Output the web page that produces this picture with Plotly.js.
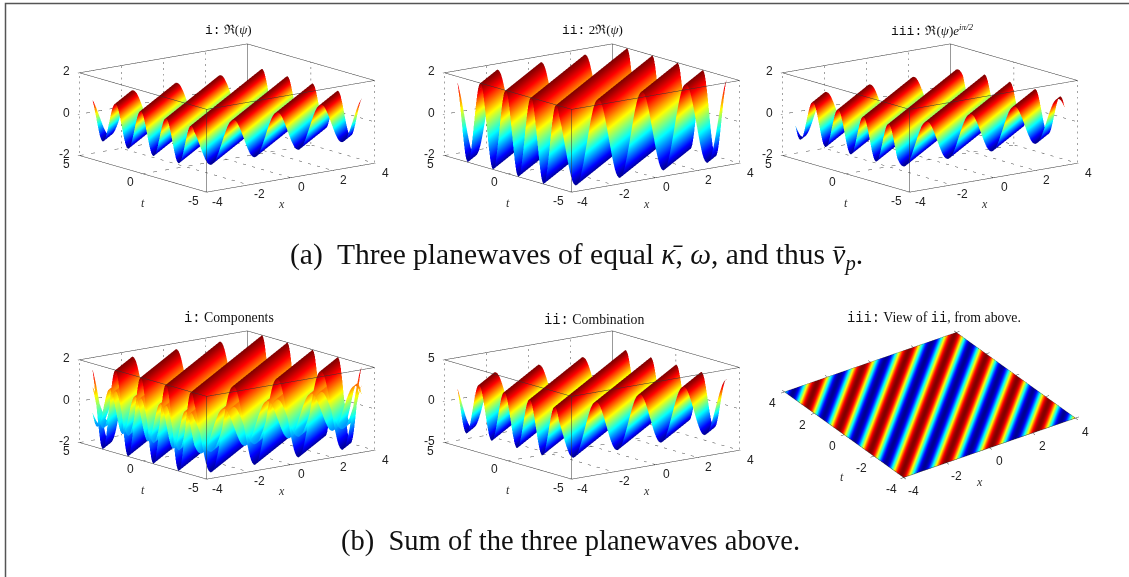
<!DOCTYPE html>
<html><head><meta charset="utf-8">
<script src="https://cdn.plot.ly/plotly-3.0.1.min.js"></script>
<style>html,body{margin:0;padding:0;background:#fff}#g{width:1129px;height:577px}</style></head>
<body><div id="g"></div>
<script>
// One period of the wave height, crest = 1 (36 samples)
const waveProfile = [1,0.98,0.94,0.87,0.77,0.64,0.5,0.34,0.17,0,-0.17,-0.34,-0.5,-0.64,-0.77,-0.87,-0.94,-0.98,-1,-0.98,-0.94,-0.87,-0.77,-0.64,-0.5,-0.34,-0.17,0,0.17,0.34,0.5,0.64,0.77,0.87,0.94,0.98];
const xTicks = [-4,-2,0,2,4];
const tTicks3d = [-5,0,5];
const tTicksTop = [-4,-2,0,2,4];
const zTicksSmall = [-2,0,2];
const zTicksBig = [-5,0,5];
// Panels: amplitude and phase shift (in profile samples) of each surface
const amp_i = 1, amp_ii = 2, amp_iii = 1, amp_sum = 3.16;
const shift_i = 4, shift_ii = 4, shift_iii = 12, shift_sum = 6, shift_top = 3;
const mono = s => '<span style="font-family:Liberation Mono">'+s+'</span>';
const titles = [mono('i:')+' ℜ(<i>ψ</i>)',mono('ii:')+' 2ℜ(<i>ψ</i>)',mono('iii:')+' ℜ(<i>ψ</i>)<i>e</i><sup><i>iπ/2</i></sup>',mono('i:')+' Components',mono('ii:')+' Combination',mono('iii:')+' View of '+mono('ii')+', from above.'];
const captionA = '(a)  Three planewaves of equal <i>κ̄</i>, <i>ω</i>, and thus <i>v̄</i><sub><i>p</i></sub>.';
const captionB = '(b)  Sum of the three planewaves above.';
const jet = [[0,'rgb(0,0,143)'],[0.11,'rgb(0,0,255)'],[0.36,'rgb(0,255,255)'],[0.61,'rgb(255,255,0)'],[0.86,'rgb(255,0,0)'],[1,'rgb(128,0,0)']];

const grid = n => Array.from({length:n},(_, i)=>-4+8*i/(n-1));
const xs = grid(139), ts = grid(146), xsTop = grid(136), tsTop = grid(138);
const N = waveProfile.length;
function sheet(amp, shift, gx, gt){
  return (gt||ts).map((_, j)=>(gx||xs).map((_, i)=>amp*waveProfile[(((i-j+shift)%N)+N)%N]));
}
const W=1129,H=577;
function dom(cx,cy,w,h){return {x:[(cx-w/2)/W,(cx+w/2)/W],y:[1-(cy+h/2)/H,1-(cy-h/2)/H]};}
function ax(tickvals,range){
  return {title:{text:''},range:range,tickmode:'array',tickvals:tickvals,ticktext:tickvals.map(String),
    showticklabels:false,ticks:'inside',ticklen:2,tickcolor:'#555',
    showline:false,showgrid:false,zeroline:false,showbackground:false,showspikes:false};
}
const K=1.845;
const lab=(x,y,z,text,dx,dy,anchor)=>({x,y,z,text:String(text),showarrow:false,xshift:dx,yshift:-dy,xanchor:anchor||'center',yanchor:'middle',font:{family:'Liberation Sans',size:12,color:'#222'}});
const axt=(x,y,z,text,dx,dy)=>({x,y,z,text:'<i>'+text+'</i>',showarrow:false,xshift:dx,yshift:-dy,xanchor:'center',yanchor:'middle',font:{family:'Liberation Serif',size:12,color:'#333'}});
function scene(cx,cy,zTicks,zR,eye){
  const zmin=zR[0];
  return {domain:dom(cx,cy,340,230),
    camera:{projection:{type:'orthographic'},eye:eye,center:{x:0,y:0,z:0},up:{x:0,y:0,z:1}},
    aspectmode:'manual',aspectratio:{x:K,y:0.98*K,z:0.40*K},
    xaxis:ax(xTicks,[-4,4]),yaxis:ax(tTicks3d,[-5,5]),zaxis:ax(zTicks,zR),
    annotations:[
      ...xTicks.map(v=>lab(v,-5,zmin,v,11,10)),
      ...tTicks3d.map(v=>lab(-4,v,zmin,v,-13,9)),
      ...zTicks.map(v=>lab(-4,5,v,v,-7,-1,'right')),
      axt(-4,0,zmin,'t',0,30),axt(0,-5,zmin,'x',-9,27)],
    dragmode:false};
}
function surf(id,z,c,cr,gx,gt){
  return {type:'surface',scene:id,x:gx||xs,y:gt||ts,z:z,surfacecolor:c,cmin:-cr,cmax:cr,colorscale:jet,showscale:false,hoverinfo:'skip',
    lighting:{ambient:1,diffuse:0,specular:0,roughness:1,fresnel:0},
    contours:{x:{show:false,highlight:false},y:{show:false,highlight:false},z:{show:false,highlight:false}}};
}
function s(id,amp,shift,cr){const z=sheet(amp,shift);return surf(id,z,z,cr);}
const flatTop = tsTop.map(()=>xsTop.map(()=>0));
// box edges (solid) and grid (dotted), drawn from the axis ranges and tick lists
function segs(id,list,dash,color){
  const x=[],y=[],z=[];
  list.forEach(p=>{x.push(p[0],p[3],null);y.push(p[1],p[4],null);z.push(p[2],p[5],null);});
  return {type:'scatter3d',scene:id,mode:'lines',x,y,z,hoverinfo:'skip',showlegend:false,connectgaps:false,line:{color:color,width:1,dash:dash}};
}
function frame(id,zT){
  const X0=-4,X1=4,T0=-5,T1=5,Z0=zT[0],Z1=zT[zT.length-1];
  const solid=[[X0,T0,Z0,X1,T0,Z0],[X0,T0,Z0,X0,T1,Z0],[X0,T0,Z1,X1,T0,Z1],[X0,T0,Z1,X0,T1,Z1],
    [X1,T1,Z1,X1,T0,Z1],[X1,T1,Z1,X0,T1,Z1],[X0,T0,Z0,X0,T0,Z1],[X1,T1,Z0,X1,T1,Z1]];
  const dots=[[X0,T1,Z0,X1,T1,Z0],[X1,T0,Z0,X1,T1,Z0],[X0,T1,Z0,X0,T1,Z1],[X1,T0,Z0,X1,T0,Z1]];
  xTicks.slice(1,-1).forEach(v=>{dots.push([v,T1,Z0,v,T1,Z1],[v,T0,Z0,v,T1,Z0]);});
  tTicks3d.slice(1,-1).forEach(v=>{dots.push([X1,v,Z0,X1,v,Z1],[X0,v,Z0,X1,v,Z0]);});
  zT.slice(1,-1).forEach(v=>{dots.push([X0,T1,v,X1,T1,v],[X1,T0,v,X1,T1,v]);});
  return [segs(id,solid,'solid','#333'),segs(id,dots,'dot','#444')];
}
const E=4.16/4;
function topFrame(){
  const T=[];const a=-4,b=4,o=4.16;
  xTicks.forEach(v=>{T.push([v,-o,0,v,a,0],[v,b,0,v,o,0]);});
  tTicksTop.forEach(v=>{T.push([-o,v,0,a,v,0],[b,v,0,o,v,0]);});
  return [segs('scene6',[[a,a,0,b,a,0],[a,a,0,a,b,0],[b,b,0,b,a,0],[b,b,0,a,b,0]],'solid','#333'),segs('scene6',T,'solid','#444')];
}
const data=[
 s('scene',amp_i,shift_i,1),
 s('scene2',amp_ii,shift_ii,2),
 s('scene3',amp_iii,shift_iii,1),
 s('scene4',amp_ii,shift_ii,2),s('scene4',amp_i,shift_i,2),s('scene4',amp_iii,shift_iii,2),
 s('scene5',amp_sum,shift_sum,3.16),
 surf('scene6',flatTop,sheet(amp_sum,shift_top,xsTop,tsTop),3.16,xsTop,tsTop),
 ...frame('scene',zTicksSmall),...frame('scene2',zTicksSmall),...frame('scene3',zTicksSmall),
 ...frame('scene4',zTicksSmall),...frame('scene5',zTicksBig),...topFrame()
];
const L=1.9;
const eye3d={x:-0.595*L,y:-0.769*L,z:0.222*L};
const eyeTop={x:-0.494*L,y:-0.712*L,z:0.4986*L};
const sc6=scene(930,404.5,[0],[-1,1],eyeTop);
sc6.xaxis=ax(xTicks,[-4.16,4.16]);sc6.yaxis=ax(tTicksTop,[-4.16,4.16]);
sc6.xaxis.ticks='';sc6.yaxis.ticks='';
sc6.zaxis.visible=false;sc6.aspectratio={x:K*0.985*E,y:K*0.985*E,z:0.01};
sc6.annotations=[...xTicks.map(v=>lab(v,-4,0,v,10,14)),...tTicksTop.map(v=>lab(-4,v,0,v,-12,12)),axt(-4,0,0,'t',-2,43),axt(0,-4,0,'x',-10,35)];
const ann=(x,y,text,size)=>({xref:'paper',yref:'paper',x:x/W,y:1-y/H,text:text,showarrow:false,xanchor:'center',yanchor:'middle',font:{family:'Liberation Serif',size:size,color:'#111'}});
const layout={width:W,height:H,margin:{l:0,r:0,t:0,b:0},paper_bgcolor:'#fff',showlegend:false,
 scene:scene(227,117.5,zTicksSmall,[-2,2],eye3d),
 scene2:scene(591.5,117.5,zTicksSmall,[-2,2],eye3d),
 scene3:scene(929.5,117.5,zTicksSmall,[-2,2],eye3d),
 scene4:scene(227,404.5,zTicksSmall,[-2,2],eye3d),
 scene5:scene(591.5,404.5,zTicksBig,[-5,5],eye3d),
 scene6:sc6,
 annotations:[ann(228,30,titles[0],13),ann(592,30,titles[1],13),ann(932,30,titles[2],13),
  ann(229,318,titles[3],13.8),ann(594,320,titles[4],13.8),ann(934,318,titles[5],13.8),
  ann(576.5,256,captionA,29.5),ann(570,541,captionB,28.5)],
 shapes:[{type:'path',xref:'paper',yref:'paper',path:`M ${5.5/W} 0 L ${5.5/W} ${1-3.5/H} L 1 ${1-3.5/H}`,line:{color:'#555',width:1.5}}]
};
Plotly.newPlot('g',data,layout,{displayModeBar:false});
</script></body></html>
